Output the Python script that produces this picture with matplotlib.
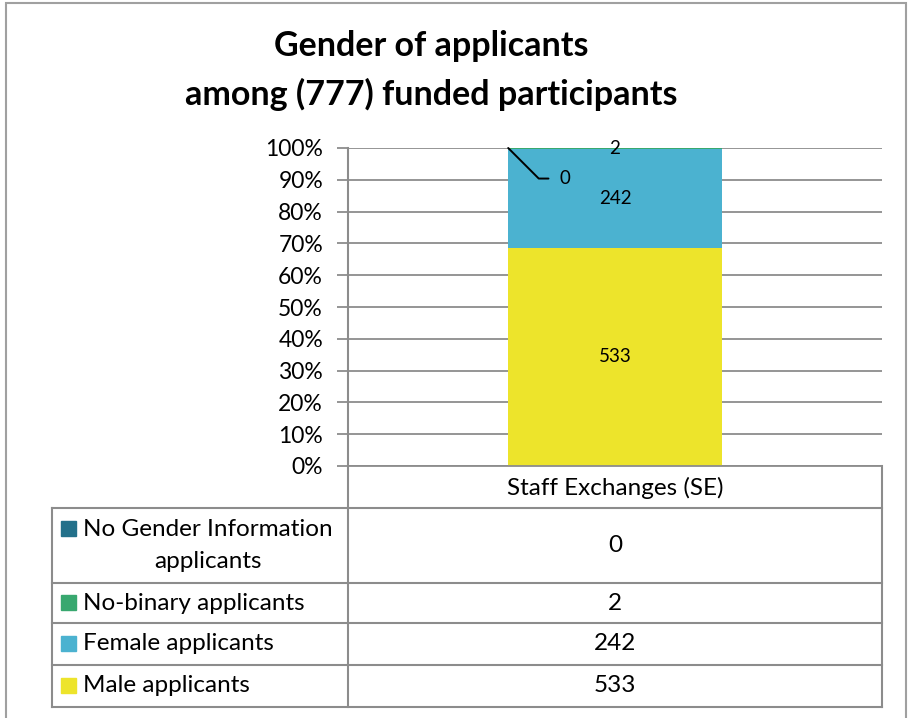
import matplotlib
matplotlib.use('Agg')
import matplotlib.pyplot as plt
from matplotlib.patches import Rectangle

plt.rcParams['font.family'] = ['Lato', 'DejaVu Sans']

# Дані
title_lines = ['Gender of applicants', 'among (777) funded participants']
group_label = 'Staff Exchanges (SE)'
series_names = ['No Gender Information\napplicants', 'No-binary applicants',
                'Female applicants', 'Male applicants']
series_counts = [0, 2, 242, 533]
series_colors = ['#23708a', '#38a86f', '#4bb2d0', '#ede42b']
y_ticks = [0, 10, 20, 30, 40, 50, 60, 70, 80, 90, 100]

W, H = 912, 718
GRAY = '#8c8c8c'
TXT = 17.5


def fx(x):
    return x / W


def fy(y):
    return 1 - y / H


fig = plt.figure(figsize=(W / 100, H / 100), dpi=100)

# Рамка діаграми
fig.patches.append(Rectangle((fx(6), fy(730)), fx(900), fy(3) - fy(730),
                             transform=fig.transFigure, fill=False,
                             edgecolor='#a0a0a0', lw=1.5))

for line, y in zip(title_lines, [46, 94]):
    fig.text(fx(431), fy(y), line, ha='center', va='center', fontsize=24.5,
             fontweight='bold')

# Графік
ax = fig.add_axes([fx(348), fy(466), fx(882) - fx(348), fy(148) - fy(466)])
total = sum(series_counts)
bar_w = 0.4
bottom = 0
for name, n, c in reversed(list(zip(series_names, series_counts, series_colors))):
    frac = n / total
    ax.bar(0, frac, width=bar_w, bottom=bottom, color=c, zorder=2)
    if n > 0:
        ax.text(0, bottom + frac / 2, str(n), ha='center', va='center',
                fontsize=13.5, zorder=3)
    else:
        ax.annotate(str(n), xy=(-bar_w / 2, bottom), xytext=(37, -22),
                    textcoords='offset points', ha='left', va='center',
                    fontsize=13.5, zorder=3,
                    arrowprops=dict(arrowstyle='-', color='black', lw=1.4,
                                    connectionstyle='angle,angleA=0,angleB=-45,rad=0',
                                    relpos=(0, 0.5), shrinkA=6, shrinkB=0))
    bottom += frac

ax.set_xlim(-0.5, 0.5)
ax.set_ylim(0, 1)
ax.set_yticks([t / 100 for t in y_ticks])
ax.set_yticklabels([f'{t}%' for t in y_ticks], fontsize=16.5)
ax.set_xticks([])
ax.tick_params(axis='y', length=8, width=1.3, color=GRAY, pad=10)
ax.yaxis.grid(True, color=GRAY, lw=1.3, zorder=0)
ax.set_axisbelow(True)
for s in ['top', 'right']:
    ax.spines[s].set_visible(False)
for s in ['left', 'bottom']:
    ax.spines[s].set_color(GRAY)
    ax.spines[s].set_linewidth(1.3)

# Таблиця даних
tab = fig.add_axes([0, 0, 1, 1])
tab.set_xlim(0, W)
tab.set_ylim(H, 0)
tab.axis('off')
tab.patch.set_alpha(0)

rows = [508, 583, 623, 665, 707]
tab.plot([348, 348], [148, 707], color=GRAY, lw=1.5)
tab.plot([882, 882], [466, 707], color=GRAY, lw=1.5)
tab.plot([52, 52], [508, 707], color=GRAY, lw=1.5)
for r in rows:
    tab.plot([52, 882], [r, r], color=GRAY, lw=1.5)

tab.text(615, 488, group_label, ha='center', va='center', fontsize=TXT)

for i, (name, n, c) in enumerate(zip(series_names, series_counts, series_colors)):
    top, bot = rows[i], rows[i + 1]
    mid = (top + bot) / 2
    lines = name.split('\n')
    if len(lines) == 2:
        tab.add_patch(Rectangle((61, 521), 15, 15, color=c))
        tab.text(83, 529, lines[0], ha='left', va='center', fontsize=TXT)
        tab.text(208, 561, lines[1], ha='center', va='center', fontsize=TXT)
    else:
        tab.add_patch(Rectangle((61, mid - 8), 15, 15, color=c))
        tab.text(83, mid, lines[0], ha='left', va='center', fontsize=TXT)
    tab.text(615, mid, str(n), ha='center', va='center', fontsize=TXT)

fig.savefig('out.png', dpi=100)
plt.close(fig)
